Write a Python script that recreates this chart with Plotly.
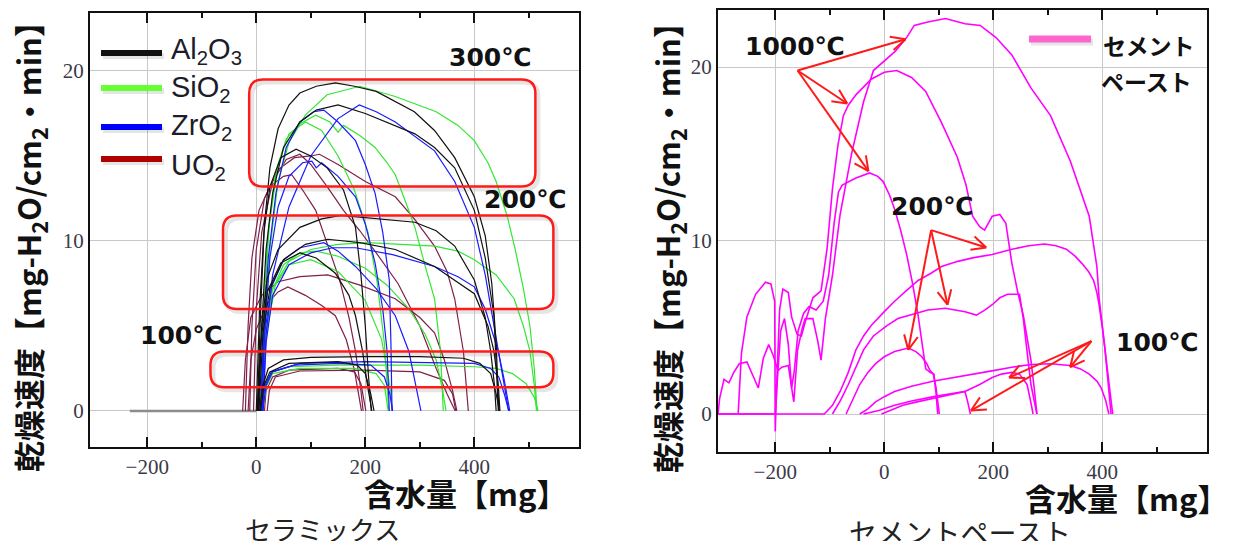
import math
import plotly.graph_objects as go

W, H = 1234, 549          # browser window
OFF = 8                    # default page margin
FW, FH = W - 2 * OFF, H - 2 * OFF

# ---------------- data: ceramics (x = water content [mg], y = drying rate) -------------
AL2O3_300 = [
    [(2,0),(8,6),(15,11),(25,14.3),(40,16.6),(60,18.0),(80,18.7),(110,19.1),(145,19.3),(180,19.1),(220,18.8),(255,18.2),(290,17.6),(327,16.5),(364,14.9),(400,12.6),(420,10.3),(432,7.5),(440,4),(445,0)],
    [(4,0),(10,5),(18,9.5),(30,12.8),(50,15.5),(80,17.0),(110,17.7),(150,18.0),(200,17.5),(255,16.8),(291,16.3),(327,15.5),(364,14.3),(400,11.8),(420,9),(436,5.6),(444,0)],
    [(0,0),(6,6),(14,10.5),(25,13.2),(45,14.9),(73,15.4),(100,15.0),(130,14.3),(160,13.0),(182,10.8),(192,8),(200,5),(206,2),(211,0)],
]
AL2O3_200 = [
    [(3,0),(10,5),(20,7.8),(40,9.5),(80,10.8),(120,11.3),(155,11.5),(220,11.3),(291,11.1),(330,10.6),(364,9.7),(400,7.7),(420,5.5),(430,3.5),(437,1.5),(440,0)],
    [(5,0),(12,4.5),(25,7.2),(50,8.9),(90,9.8),(131,10.1),(190,9.9),(255,9.5),(327,8.5),(400,6.9),(425,5.0),(436,3.5),(444,1.5),(447,0)],
    [(2,0),(8,4),(20,7),(45,8.7),(80,9.3),(110,9.0),(145,8.1),(170,6.8),(182,5.6),(195,3.5),(204,1.5),(212,0)],
]
AL2O3_100 = [
    [(6,0),(12,1.5),(22,2.5),(50,3.0),(100,3.15),(200,3.2),(300,3.2),(380,3.1),(410,2.8),(430,2.2),(440,1.0),(446,0)],
    [(8,0),(14,1.5),(25,2.3),(60,2.8),(150,2.9),(185,2.7),(200,2.2),(210,1.0),(216,0)],
]
SIO2_300 = [
    [(10,0),(16,5),(25,9.5),(40,13.5),(60,15.8),(90,17.4),(130,18.6),(190,19.1),(255,18.5),(290,18.1),(330,17.6),(370,16.8),(400,15.9),(425,14.6),(440,13.5),(460,11.5),(475,9.5),(490,7.2),(502,5.0),(510,2.5),(515,0)],
    [(8,0),(14,6),(22,10.5),(35,14.0),(55,16.0),(80,16.9),(109,17.4),(135,17.0),(150,16.4),(160,16.8),(190,16.2),(218,15.5),(240,14.6),(255,13.9),(275,12.2),(291,10.8),(310,8.5),(327,6.6),(338,3.5),(343,0)],
    [(8,0),(14,6),(24,11),(40,14.5),(60,16.3),(90,17.0),(120,16.5),(150,15.0),(180,13.0),(205,10.5),(222,7.5),(235,4),(243,0)],
]
SIO2_200 = [
    [(10,0),(16,4),(30,7.2),(60,8.8),(100,9.5),(150,9.8),(204,9.9),(260,9.8),(327,9.7),(370,9.4),(400,8.9),(440,8.0),(473,6.6),(490,5.0),(502,3.5),(510,1.5),(514,0)],
    [(8,0),(15,4),(28,7),(50,8.6),(80,9.3),(110,9.4),(150,9.1),(200,8.4),(240,7.4),(280,6.0),(310,4.5),(330,3),(342,1.2),(348,0)],
    [(10,0),(18,4.5),(35,7.4),(60,8.6),(100,8.9),(150,8.2),(200,6.5),(230,4.2),(245,1.5),(250,0)],
]
SIO2_100 = [
    [(10,0),(16,1.5),(28,2.3),(60,2.6),(150,2.7),(300,2.7),(400,2.6),(440,2.5),(470,2.2),(495,1.6),(510,0.8),(517,0)],
    [(12,0),(18,1.4),(30,2.2),(80,2.5),(180,2.5),(220,2.2),(235,1.5),(242,0)],
]
ZRO2_300 = [
    [(12,0),(18,4.5),(30,8),(60,12),(100,15),(150,17.2),(189,18.0),(220,17.6),(255,17.0),(290,16.2),(327,15.3),(364,13.5),(400,10.8),(420,8.0),(444,3.5),(455,1.5),(463,0)],
    [(8,0),(14,5),(22,9),(36,12.8),(55,15.5),(80,17.0),(105,17.6),(124,17.7),(150,17.0),(182,15.9),(200,14.5),(218,12.8),(232,10.5),(244,7.7),(247,4),(249,0)],
    [(10,0),(16,5),(25,9),(40,12),(60,13.8),(85,14.6),(102,14.7),(110,14.3),(120,14.6),(150,13.8),(182,12.6),(200,11),(218,8.7),(232,6),(240,3.5),(244,0)],
]
ZRO2_200 = [
    [(12,0),(18,4),(30,6.8),(60,8.6),(100,9.3),(140,9.6),(182,9.6),(250,9.2),(327,8.5),(370,7.9),(400,7.3),(420,6.0),(444,3.5),(455,1.8),(465,0)],
    [(8,0),(15,4.5),(28,7.3),(50,8.9),(80,9.6),(124,9.9),(150,9.4),(182,8.5),(220,7.2),(255,5.6),(280,3.5),(295,1.2),(302,0)],
]
ZRO2_100 = [
    [(12,0),(18,1.5),(30,2.3),(80,2.8),(200,2.9),(300,2.85),(400,2.8),(430,2.5),(445,2.0),(455,1.0),(463,0)],
    [(10,0),(16,1.5),(28,2.3),(70,2.7),(150,2.8),(210,2.7),(235,2.0),(245,1.0),(250,0)],
]
UO2_300 = [
    [(-12,0),(-8,5),(0,9.5),(15,12.5),(40,14.2),(70,14.9),(100,15.0),(116,15.1),(150,14.5),(200,13.5),(255,12.6),(290,11.3),(327,9.7),(350,8.2),(364,6.6),(380,3.5),(389,0)],
    [(-20,0),(-15,5),(-8,9),(5,11.8),(25,13.2),(50,13.8),(65,13.9),(85,13.0),(109,11.8),(130,9.8),(153,7.7),(170,5.5),(182,3.5),(192,1.2),(196,0)],
    [(-5,0),(0,6),(10,10.5),(30,13.5),(55,14.8),(80,15.1),(100,14.5),(130,13.2),(160,11.8),(190,10.6),(220,9.3),(260,7.5),(300,5.0),(330,2.5),(350,1.0),(365,0)],
]
UO2_200 = [
    [(-25,0),(-20,3),(-10,5.5),(10,6.8),(40,7.6),(80,7.9),(131,8.0),(190,7.4),(255,6.6),(300,5.5),(327,4.6),(345,3.0),(360,1.2),(368,0)],
    [(-15,0),(-10,3),(0,4.8),(20,6.3),(40,7.0),(58,7.3),(90,6.8),(120,6.2),(145,5.6),(165,4.2),(180,2.4),(189,0.8),(193,0)],
]
UO2_100 = [
    [(15,0),(18,1.2),(30,2.0),(60,2.4),(150,2.5),(180,2.3),(192,1.6),(198,0.6),(201,0)],
    [(20,0),(24,1.2),(35,2.0),(80,2.35),(200,2.4),(300,2.3),(345,1.8),(360,1.0),(366,0)],
]
CERAMIC_BASELINE = [(-232,0),(0,0)]

# ---------------- data: cement paste -------------
CEMENT_1000 = [
    [(-305,0),(-302,0.9),(-294,2.0),(-285,1.8),(-276,2.4),(-266,2.9),(-252,3.0),(-240,2.2),(-231,1.5),(-222,3.2),(-212,4.0),(-204,3.4),(-195,2.5),(-188,2.7),(-176,2.8),(-166,0.7),(-159,3.7),(-150,5.0),(-145,5.5),(-131,5.5),(-122,4.2),(-116,3.1),(-108,5.5),(-95,8.0),(-81,11.5),(-60,15.0),(-38,18.0),(-20,19.8),(-9,20.1),(0,20.3),(20,20.9),(41,21.7),(55,22.4),(80,22.6),(112,22.8),(148,22.5),(176,22.4),(205,21.7),(234,20.7),(269,18.8),(305,17.2),(341,14.6),(376,11.4),(390,8.5),(394,6.7),(405,3.7),(411,1.5),(416,0)],
    [(-268,0),(-262,3.5),(-252,5.6),(-236,6.9),(-218,7.6),(-208,7.5),(-201,6.5),(-200,-1.0),(-197,2.0),(-192,6.0),(-186,7.2),(-176,7.0),(-170,5.6),(-160,4.6),(-152,4.5),(-145,5.3),(-131,6.7),(-116,7.1),(-105,9.5),(-95,13.0),(-85,15.5),(-75,17.2),(-66,17.8),(-52,18.4),(-24,19.3),(0,19.7),(23,19.8),(50,19.4),(76,18.6),(105,16.8),(134,14.8),(150,13.2),(162,11.4),(175,10.8),(184,10.6),(198,11.4),(212,11.5),(223,11.0),(234,8.7),(245,7.0),(255,5.7),(269,3.1),(275,1.5),(280,0)],
    [(-305,0),(-200,0),(-196,2.0),(-190,4.8),(-183,5.5),(-176,4.0),(-170,1.5),(-165,2.5),(-158,4.8),(-148,5.8),(-138,6.2),(-125,6.0),(-112,6.5),(-102,8.0),(-92,11.0),(-84,12.8),(-77,13.2),(-52,13.6),(-27,13.9),(-12,13.7),(-2,13.4),(10,12.6),(19,11.8),(30,10.6),(41,9.2),(52,7.5),(62,5.7),(70,4.0),(76,2.6),(84,2.4),(91,2.3),(95,1.2),(98,0)],
]
CEMENT_200 = [
    [(-305,0),(-110,0),(-95,0.5),(-81,1.3),(-66,2.4),(-52,3.7),(-38,4.5),(-24,5.1),(0,5.9),(19,6.5),(40,7.1),(62,7.7),(85,8.1),(105,8.5),(135,8.8),(162,9.0),(198,9.2),(234,9.5),(265,9.7),(294,9.8),(315,9.7),(334,9.5),(350,9.1),(362,8.7),(375,8.2),(384,7.7),(390,7.0),(394,6.3),(400,5.0),(405,3.7),(412,1.8),(419,0)],
    [(-95,0),(-80,0.8),(-66,1.7),(-52,2.7),(-38,3.7),(-20,4.5),(5,5.1),(25,5.5),(48,5.7),(80,6.0),(112,6.1),(130,6.0),(148,5.9),(169,5.7),(185,6.0),(198,6.3),(212,6.7),(226,6.9),(248,6.9),(255,5.5),(262,3.7),(269,1.7),(280,0)],
    [(-70,0),(-58,0.8),(-45,1.7),(-30,2.4),(-16,2.9),(0,3.3),(19,3.6),(44,3.8),(58,3.6),(69,3.3),(78,2.9),(84,2.5),(90,2.3),(95,1.5),(101,0)],
]
CEMENT_100 = [
    [(-45,0),(-30,0.3),(-16,0.7),(0,1.0),(19,1.3),(50,1.6),(91,1.9),(130,2.1),(162,2.3),(200,2.5),(234,2.7),(270,2.85),(305,2.9),(341,2.8),(360,2.6),(376,2.3),(390,1.9),(398,1.5),(406,0.8),(412,0)],
    [(-5,0),(15,0.25),(34,0.5),(60,0.7),(91,0.9),(120,1.1),(148,1.3),(175,1.7),(198,2.1),(215,2.3),(234,2.4),(248,2.3),(262,1.7),(268,0.8),(273,0)],
    [(-38,0),(-10,0.2),(19,0.5),(50,0.75),(91,1.0),(120,1.15),(148,1.3),(153,0.7),(158,0)],
]

# annotation boxes (data coords, left panel): x0, x1, y0, y1
BOXES = [(-13, 512, 13.2, 19.5), (-61, 545, 6.0, 11.5), (-84, 545, 1.4, 3.5)]
# arrows (right panel): origin -> tips
ARROWS = [
    ((-159, 19.8), [(39, 21.6), (-68, 17.9), (-29, 14.0)]),
    ((86, 10.6), [(187, 9.6), (116, 6.3), (44, 3.7)]),
    ((380, 4.2), [(341, 2.7), (229, 2.1), (159, 0.2)]),
]
XTICKS = [-200, 0, 200, 400]
XMINOR = [-100, 100, 300, 500]
YTICKS = [0, 10, 20]

XRANGE = [-305, 592]
YRANGE_L = [-2.12, 23.41]
YRANGE_R = [-2.19, 23.29]

C_AL, C_SI, C_ZR, C_UO = '#111111', '#33e633', '#1a1aff', '#7f1f4a'
C_CEM = '#ff00ff'

fig = go.Figure()

def add_curves(curves, color, xa, ya, width=1.2):
    for c in curves:
        fig.add_trace(go.Scatter(x=[p[0] for p in c], y=[p[1] for p in c], mode='lines',
                                 line=dict(color=color, width=width), xaxis=xa, yaxis=ya,
                                 showlegend=False, hoverinfo='skip'))

add_curves([CERAMIC_BASELINE], '#8c8c8c', 'x', 'y', width=2.5)
for grp in (UO2_300, UO2_200, UO2_100):
    add_curves(grp, C_UO, 'x', 'y')
for grp in (SIO2_300, SIO2_200, SIO2_100):
    add_curves(grp, C_SI, 'x', 'y')
for grp in (ZRO2_300, ZRO2_200, ZRO2_100):
    add_curves(grp, C_ZR, 'x', 'y')
for grp in (AL2O3_300, AL2O3_200, AL2O3_100):
    add_curves(grp, C_AL, 'x', 'y')
for grp in (CEMENT_1000, CEMENT_200, CEMENT_100):
    add_curves(grp, C_CEM, 'x2', 'y2', width=1.6)

def pxx(xp):
    return (xp - OFF) / FW

def pxy(yp):
    return 1 - (yp - OFF) / FH

def px(xp, yp):
    return pxx(xp), pxy(yp)

axis_common = dict(range=XRANGE, tickvals=XTICKS, showgrid=True, gridcolor='#c8c8c8', gridwidth=1.3,
                   zeroline=False, showline=True, linecolor='#111', linewidth=2, mirror='ticks',
                   ticks='inside', ticklen=10, tickwidth=2, tickcolor='#111',
                   minor=dict(tickvals=XMINOR, ticks='inside', ticklen=5, tickwidth=2, tickcolor='#111', showgrid=False),
                   tickfont=dict(family='Liberation Serif', size=21, color='#3a3a48'), fixedrange=True)
yaxis_common = dict(tickvals=YTICKS, showgrid=True, gridcolor='#c8c8c8', gridwidth=1.3, zeroline=False,
                    showline=True, linecolor='#111', linewidth=2, mirror=True, ticks='',
                    tickfont=dict(family='Liberation Serif', size=21, color='#3a3a48'), fixedrange=True)

fig.update_layout(
    width=FW, height=FH, autosize=False, margin=dict(l=0, r=0, t=0, b=0),
    paper_bgcolor='white', plot_bgcolor='white', showlegend=False,
    xaxis=dict(domain=[pxx(90), pxx(579)], anchor='y', **axis_common),
    yaxis=dict(domain=[pxy(447), pxy(13)], anchor='x', range=YRANGE_L, **yaxis_common),
    xaxis2=dict(domain=[pxx(718), pxx(1207)], anchor='y2', **axis_common),
    yaxis2=dict(domain=[pxy(452), pxy(10)], anchor='x2', range=YRANGE_R, **yaxis_common),
)

shapes = []

def rounded(x0, x1, y0, y1, rx, ry):
    return (f"M {x0+rx},{y1} L {x1-rx},{y1} Q {x1},{y1} {x1},{y1-ry} L {x1},{y0+ry} "
            f"Q {x1},{y0} {x1-rx},{y0} L {x0+rx},{y0} Q {x0},{y0} {x0},{y0+ry} "
            f"L {x0},{y1-ry} Q {x0},{y1} {x0+rx},{y1} Z")

# rounded red boxes with soft shadow
rx, ry = 14 / 0.545, 14 / 17.0
dxs, dys = 3 / 0.545, -3 / 17.0
for (x0, x1, y0, y1) in BOXES:
    shapes.append(dict(type='path', path=rounded(x0 + dxs, x1 + dxs, y0 + dys, y1 + dys, rx, ry),
                       xref='x', yref='y', line=dict(color='rgba(0,0,0,0.10)', width=4), layer='below'))
    shapes.append(dict(type='path', path=rounded(x0, x1, y0, y1, rx, ry), xref='x', yref='y',
                       line=dict(color='#ff1a1a', width=2.5)))

# arrows in right panel
sx, sy = 0.545, 17.35
for (ox, oy), tips in ARROWS:
    for (tx, ty) in tips:
        shapes.append(dict(type='line', x0=ox, y0=oy, x1=tx, y1=ty, xref='x2', yref='y2',
                           line=dict(color='#ff1a1a', width=2)))
        dxp, dyp = (tx - ox) * sx, (ty - oy) * sy
        L = math.hypot(dxp, dyp)
        ux, uy = dxp / L, dyp / L
        for ang in (0.45, -0.45):
            cx = ux * math.cos(ang) - uy * math.sin(ang)
            cy = ux * math.sin(ang) + uy * math.cos(ang)
            hx, hy = tx - 16 * cx / sx, ty - 16 * cy / sy
            shapes.append(dict(type='line', x0=tx, y0=ty, x1=hx, y1=hy, xref='x2', yref='y2',
                               line=dict(color='#ff1a1a', width=2)))

# legend swatches (with faint shadow)
for yp, col in zip([53, 88, 127, 159], [C_AL, '#66ff33', '#0000ff', '#b00000']):
    a, b = px(103, yp + 3)
    c, _ = px(164, yp + 3)
    shapes.append(dict(type='line', x0=a, x1=c, y0=b, y1=b, xref='paper', yref='paper',
                       line=dict(color='rgba(0,0,0,0.10)', width=6)))
    a, b = px(101, yp)
    c, _ = px(162, yp)
    shapes.append(dict(type='line', x0=a, x1=c, y0=b, y1=b, xref='paper', yref='paper',
                       line=dict(color=col, width=6)))
a, b = px(1031, 42)
c, _ = px(1093, 42)
shapes.append(dict(type='line', x0=a, x1=c, y0=b, y1=b, xref='paper', yref='paper',
                   line=dict(color='rgba(0,0,0,0.10)', width=7)))
a, b = px(1029, 39)
c, _ = px(1091, 39)
shapes.append(dict(type='line', x0=a, x1=c, y0=b, y1=b, xref='paper', yref='paper',
                   line=dict(color='#ff66cc', width=7)))
fig.update_layout(shapes=shapes)

ann = []
def text_px(t, xp, yp, size, family, color='#111', bold=False, xanchor='center', angle=0):
    x, y = px(xp, yp)
    ann.append(dict(text=(f"<b>{t}</b>" if bold else t), x=x, y=y, xref='paper', yref='paper',
                    xanchor=xanchor, yanchor='middle', showarrow=False, textangle=angle,
                    font=dict(size=size, family=family, color=color)))

YT = "乾燥速度【mg-H<sub>2</sub>O/cm<sub>2</sub>・min】"
text_px(YT, 29, 239, 31, 'Noto Sans CJK JP', bold=True, angle=-90)
text_px(YT, 668, 240, 31, 'Noto Sans CJK JP', bold=True, angle=-90)
text_px("含水量【mg】", 465, 492, 31, 'Noto Sans CJK JP', bold=True)
text_px("含水量【mg】", 1126, 497, 31, 'Noto Sans CJK JP', bold=True)
text_px("セラミックス", 322, 528, 26, 'Noto Sans CJK JP', color='#222')
text_px("セメントペースト", 960, 532, 28, 'Noto Sans CJK JP', color='#222')

for t, yp in zip(["Al<sub>2</sub>O<sub>3</sub>", "SiO<sub>2</sub>", "ZrO<sub>2</sub>", "UO<sub>2</sub>"], [51, 89, 127, 167]):
    text_px(t, 169, yp, 29, 'Liberation Sans', color='#1c1c2a', xanchor='left')
text_px("セメント", 1101, 45, 23, 'Noto Sans CJK JP', bold=True, xanchor='left')
text_px("ペースト", 1099, 81, 23, 'Noto Sans CJK JP', bold=True, xanchor='left')

TF = 'DejaVu Sans, Noto Sans CJK JP'
text_px("300℃", 490, 58, 25, TF, bold=True)
text_px("200℃", 525, 200, 25, TF, bold=True)
text_px("100℃", 181, 335, 25, TF, bold=True)
text_px("1000℃", 795, 46, 25, TF, bold=True)
text_px("200℃", 932, 206, 25, TF, bold=True)
text_px("100℃", 1157, 342, 25, TF, bold=True)

fig.update_layout(annotations=ann)
fig.write_html("out.html")
